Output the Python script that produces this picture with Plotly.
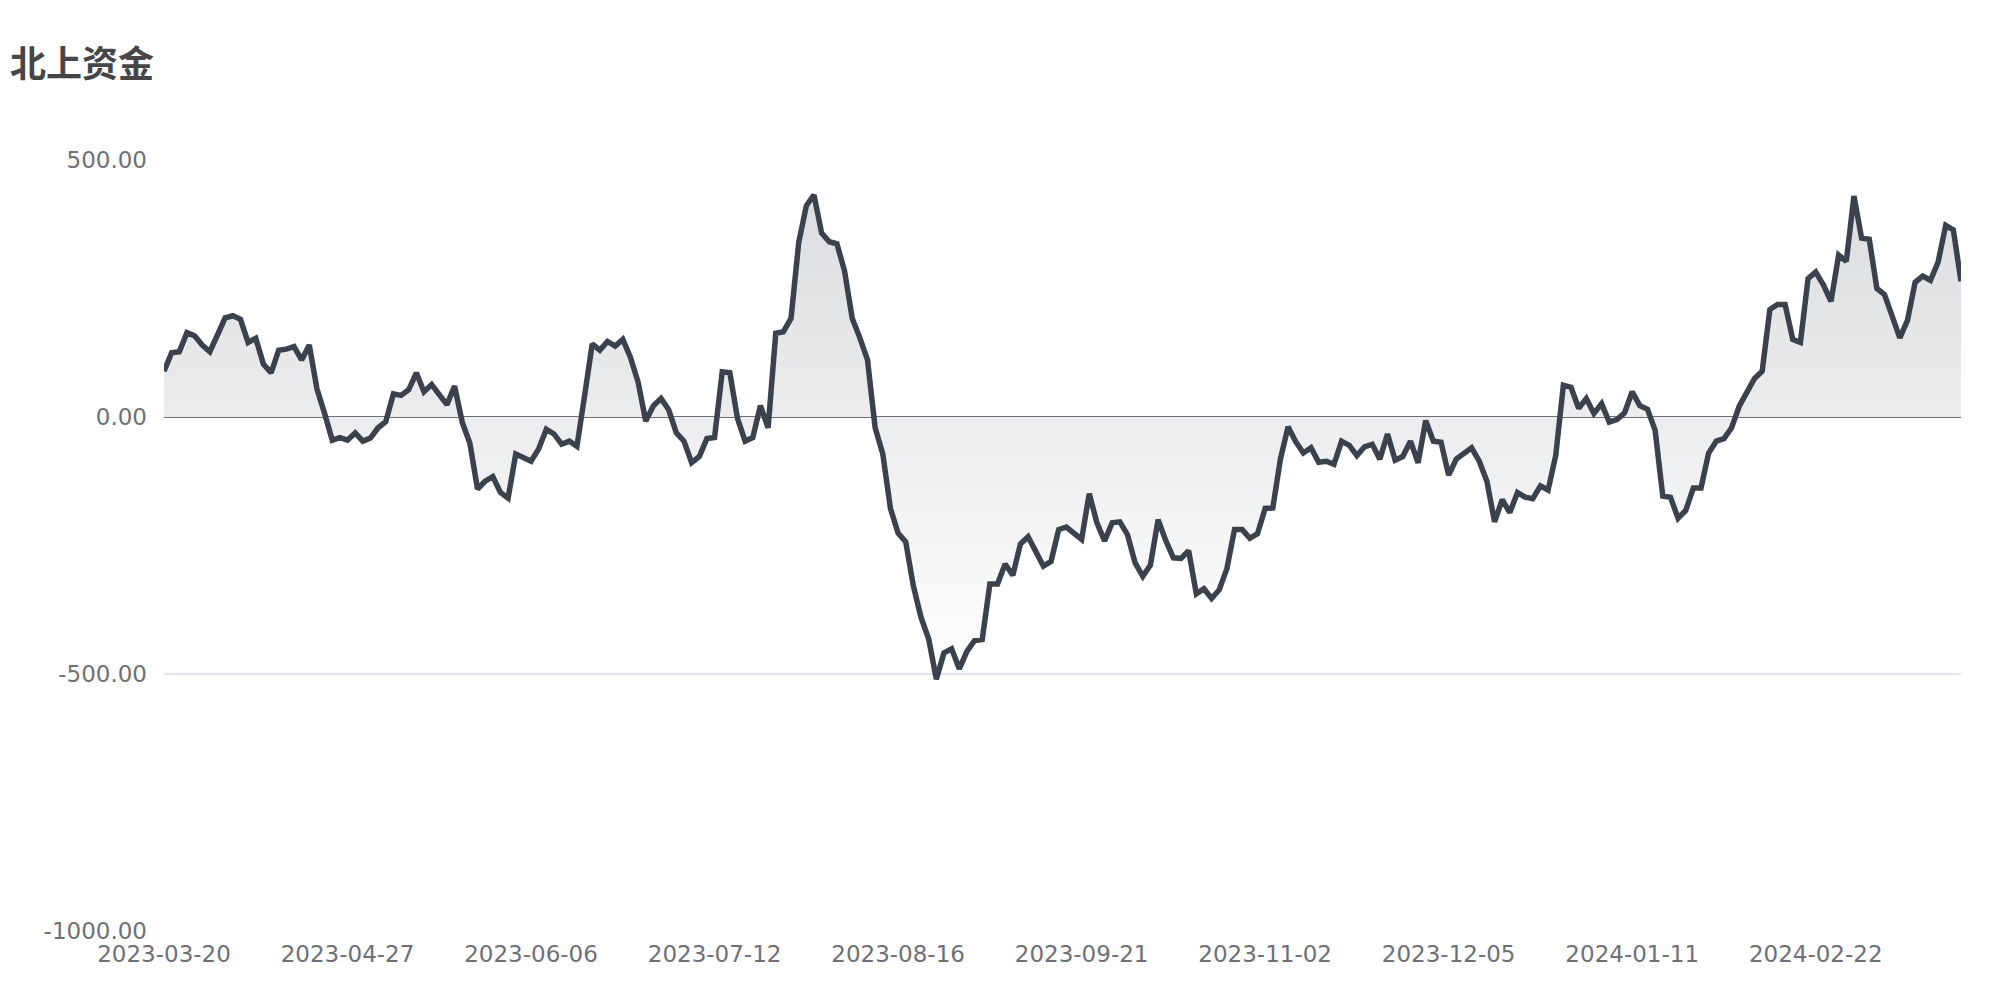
import plotly.graph_objects as go

TITLE = '北上资金'

# 北向资金净流入（亿元），按交易日顺序
flow_mar_may = [89, 125, 127, 164, 158, 140, 127, 161, 193, 197, 190, 145, 153, 103, 86, 130, 132, 137, 111, 140,
                55, 7, -45, -40, -45, -31, -47, -41, -21, -9, 45, 42, 53, 86, 49, 63, 45, 24, 60, -10, -51, -140]
flow_may_jul = [-125, -116, -147, -158, -72, -79, -86, -62, -24, -33, -53, -47, -57, 41, 142, 130, 147, 138, 151, 116,
                68, -8, 22, 36, 14, -31, -47, -89, -77, -42, -40, 88, 86, -3, -47, -40, 22, -21, 163, 166, 192, 339, 411]
flow_jul_sep = [432, 358, 341, 337, 284, 192, 154, 111, -21, -72, -178, -226, -243, -329, -390, -432, -510, -459, -451, -490,
                -456, -435, -433, -325, -325, -286, -308, -247, -233, -264, -290, -281, -219, -214, -225, -238, -149, -206, -241, -206,
                -204, -229]
flow_sep_dec = [-284, -310, -288, -200, -240, -274, -275, -260, -344, -334, -353, -336, -295, -219, -219, -236, -227, -178, -177, -82,
                -19, -48, -70, -60, -88, -86, -92, -47, -55, -75, -58, -53, -82, -33, -84, -77, -47, -89, -7, -47,
                -49, -113]
flow_dec_feb = [-82, -70, -60, -86, -125, -204, -161, -186, -147, -156, -159, -134, -142, -75, 62, 58, 17, 36, 7, 26,
                -10, -5, 8, 49, 22, 15, -26, -154, -156, -197, -182, -138, -138, -70, -47, -42, -21, 21, 49, 75, 89]
flow_feb_mar = [209, 219, 219, 151, 145, 269, 282, 257, 225, 315, 303, 430, 348, 346, 250, 238, 199, 154, 188, 262,
                274, 266, 301, 373, 364, 264]

# x 轴标签（每 24 个交易日一个）
tick_dates = ['2023-03-20', '2023-04-27', '2023-06-06', '2023-07-12', '2023-08-16',
              '2023-09-21', '2023-11-02', '2023-12-05', '2024-01-11', '2024-02-22']
tick_step = 24

y_ticks = [-1000, -500, 0, 500]

values = flow_mar_may + flow_may_jul + flow_jul_sep + flow_sep_dec + flow_dec_feb + flow_feb_mar
days = list(range(len(values)))

AXIS_FONT = dict(family='DejaVu Sans', size=23, color='#6E7079')

# the page body keeps its 8px margin, so the figure is 16px smaller than the window
W, H = 1984, 984

fig = go.Figure()
fig.add_trace(go.Scatter(
    x=days,
    y=values,
    mode='lines',
    line=dict(color='#3A434D', width=5.5),
    fill='tozeroy',
    fillgradient=dict(
        type='vertical',
        colorscale=[[0, '#FFFFFF'], [1, '#DCDDE0']],
        start=min(values),
        stop=max(values),
    ),
    hoverinfo='skip',
))

fig.update_layout(
    width=W,
    height=H,
    paper_bgcolor='white',
    plot_bgcolor='white',
    showlegend=False,
    margin=dict(l=156, r=31, t=152, b=61),
    title=dict(
        text='<b>' + TITLE + '</b>',
        font=dict(family='Noto Sans CJK SC', size=36, color='#464646'),
        x=2 / W,
        xanchor='left',
        xref='container',
        y=1 - 56 / H,
        yanchor='middle',
        yref='container',
    ),
)

fig.update_xaxes(
    range=[0, len(values) - 1],
    tickvals=[i * tick_step for i in range(len(tick_dates))],
    ticktext=tick_dates,
    tickfont=AXIS_FONT,
    showgrid=False,
    zeroline=False,
    showline=False,
    ticks='',
    ticklabelstandoff=7,
)

fig.update_yaxes(
    range=[-1000, 500],
    tickvals=y_ticks,
    ticktext=[f'{v:.2f}' for v in y_ticks],
    tickfont=AXIS_FONT,
    showgrid=True,
    gridcolor='#E0E6F1',
    gridwidth=1.5,
    zeroline=True,
    zerolinecolor='#6E7079',
    zerolinewidth=2,
    showline=False,
    ticks='',
    ticklabelstandoff=16,
)

fig.write_html('out.html')
